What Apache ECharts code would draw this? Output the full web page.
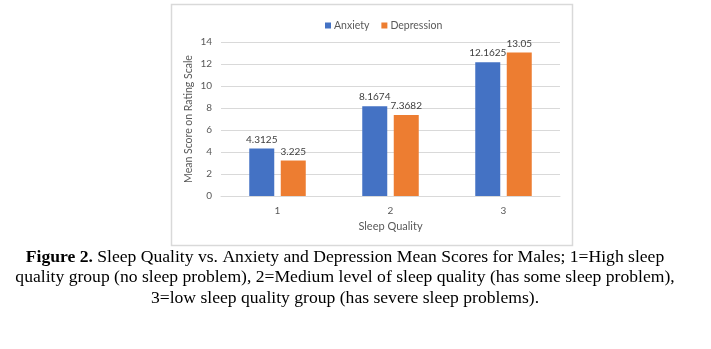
<!DOCTYPE html>
<html>
<head>
<meta charset="utf-8">
<style>
  html, body { margin: 0; padding: 0; background: #ffffff; }
  #chart { width: 711px; height: 349px; }
</style>
<script src="https://cdn.jsdelivr.net/npm/echarts@6/dist/echarts.min.js"></script>
</head>
<body>
<div id="chart"></div>
<script>
// Sleep quality groups and mean scores per group
const categories = ['1', '2', '3'];
const anxiety = [4.3125, 8.1674, 12.1625];
const depression = [3.225, 7.3682, 13.05];
const yTicks = { min: 0, max: 14, interval: 2 };

const captionLines = [
  '{b|Figure 2.} Sleep Quality vs. Anxiety and Depression Mean Scores for Males; 1=High sleep',
  'quality group (no sleep problem), 2=Medium level of sleep quality (has some sleep problem),',
  '3=low sleep quality group (has severe sleep problems).'
];

const uiFont = 'Lato, "Open Sans", sans-serif';
const serif = '"Liberation Serif", "Times New Roman", serif';
const captionSize = 17.6;
const labelStyle = { show: true, position: 'top', distance: 4, color: '#404040', fontSize: 10, fontFamily: uiFont };

// caption: one centred text element per line
const captionGraphics = captionLines.map((line, i) => ({
  type: 'text',
  x: 345,
  y: 257 + i * 20.5,
  style: {
    text: line,
    textAlign: 'center',
    textVerticalAlign: 'middle',
    fontSize: captionSize,
    fontFamily: serif,
    fill: '#000000',
    rich: {
      b: { fontWeight: 'bold', fontSize: captionSize, fontFamily: serif, fill: '#000000' }
    }
  }
}));

const chart = echarts.init(document.getElementById('chart'), null, { renderer: 'canvas' });
chart.setOption({
  animation: false,
  backgroundColor: '#ffffff',
  color: ['#4472c4', '#ed7d31'],
  legend: {
    top: 15,
    left: 320,
    itemWidth: 6,
    itemHeight: 6,
    itemGap: 12,
    icon: 'rect',
    textStyle: { color: '#595959', fontSize: 10.5, fontFamily: uiFont, padding: [0, 0, 0, -2] },
    data: ['Anxiety', 'Depression']
  },
  grid: { left: 221, right: 151, top: 42, bottom: 153, containLabel: false },
  xAxis: {
    type: 'category',
    data: categories,
    name: 'Sleep Quality',
    nameLocation: 'middle',
    nameGap: 25,
    nameTextStyle: { color: '#595959', fontSize: 11, fontFamily: uiFont },
    axisLine: { lineStyle: { color: '#d9d9d9' } },
    axisTick: { show: false },
    axisLabel: { color: '#595959', fontSize: 10, fontFamily: uiFont, margin: 10 }
  },
  yAxis: {
    type: 'value',
    min: yTicks.min,
    max: yTicks.max,
    interval: yTicks.interval,
    name: 'Mean Score on Rating Scale',
    nameLocation: 'middle',
    nameGap: 27,
    nameTextStyle: { color: '#595959', fontSize: 10.5, fontFamily: uiFont },
    axisLine: { show: false },
    axisTick: { show: false },
    axisLabel: { color: '#595959', fontSize: 10, fontFamily: uiFont, margin: 9 },
    splitLine: { lineStyle: { color: '#d9d9d9' } }
  },
  series: [
    { name: 'Anxiety', type: 'bar', data: anxiety, barWidth: 25, barGap: '26%', label: labelStyle },
    { name: 'Depression', type: 'bar', data: depression, barWidth: 25, label: labelStyle }
  ],
  graphic: [
    {
      type: 'rect',
      shape: { x: 171.5, y: 4.5, width: 401, height: 241 },
      style: { fill: 'none', stroke: '#d9d9d9', lineWidth: 1.5 },
      z: -1
    }
  ].concat(captionGraphics)
});
</script>
</body>
</html>
